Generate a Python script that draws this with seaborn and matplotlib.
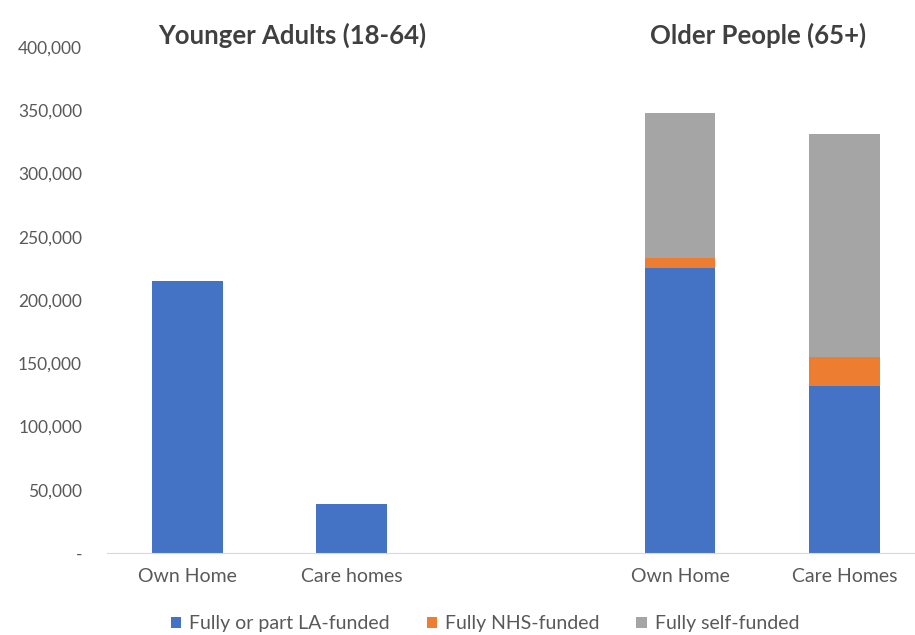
import numpy as np
import pandas as pd
import seaborn as sns
import matplotlib.pyplot as plt
from matplotlib.patches import Patch

sns.set_style('white')
plt.rcParams['font.family'] = ['Lato', 'DejaVu Sans']

# chart values
slots = ['ya_home', 'ya_care', 'gap', 'op_home', 'op_care']
tick_labels = ['Own Home', 'Care homes', '', 'Own Home', 'Care Homes']
la_funded = [215000, 39000, 0, 225000, 132000]
nhs_funded = [0, 0, 0, 8000, 23000]
self_funded = [0, 0, 0, 115000, 176000]
series_names = ['Fully or part LA-funded', 'Fully NHS-funded', 'Fully self-funded']
colors = ['#4472C4', '#ED7D31', '#A5A5A5']
group_titles = ['Younger Adults (18-64)', 'Older People (65+)']

df = pd.DataFrame({'slot': slots, 'la': la_funded, 'nhs': nhs_funded, 'self': self_funded})
df['base_self'] = df['la'] + df['nhs']

fig = plt.figure(figsize=(9.15, 6.35), dpi=100)
ax = fig.add_axes([107 / 915, 82 / 635, 808 / 915, 506 / 635])

bar_kw = dict(order=slots, width=0.43, saturation=1, linewidth=0, ax=ax)
sns.barplot(data=df, x='slot', y='la', color=colors[0], **bar_kw)
sns.barplot(data=df, x='slot', y='nhs', color=colors[1], bottom=df['la'].values, **bar_kw)
sns.barplot(data=df, x='slot', y='self', color=colors[2], bottom=df['base_self'].values, **bar_kw)

ax.set_xlim(-0.49, 4.43)
ax.set_ylim(0, 400000)
ax.set_yticks(np.arange(0, 400001, 50000))
ax.set_yticklabels(['-'] + [f'{v:,}' for v in range(50000, 400001, 50000)])
ax.set_xticks(range(len(slots)))
ax.set_xticklabels(tick_labels)
ax.set_xlabel('')
ax.set_ylabel('')
ax.tick_params(axis='both', length=0, labelcolor='#595959')
ax.tick_params(axis='x', pad=11, labelsize=14)
ax.tick_params(axis='y', pad=18, labelsize=12.5)
for side in ['top', 'right', 'left']:
    ax.spines[side].set_visible(False)
ax.spines['bottom'].set_color('#D9D9D9')

# group headings
fig.text(292 / 915, 1 - 35 / 635, group_titles[0], ha='center', va='center',
         fontsize=18.5, fontweight='bold', color='#404040')
fig.text(758 / 915, 1 - 35 / 635, group_titles[1], ha='center', va='center',
         fontsize=18.5, fontweight='bold', color='#404040')

handles = [Patch(facecolor=c, edgecolor='none') for c in colors]
fig.legend(handles, series_names, loc='center', bbox_to_anchor=(485 / 915, 1 - 624 / 635),
           ncol=3, frameon=False, fontsize=14, labelcolor='#595959',
           handlelength=0.55, handleheight=0.55, handletextpad=0.4, columnspacing=1.9,
           borderpad=0, borderaxespad=0)

fig.savefig('out.png', dpi=100)
